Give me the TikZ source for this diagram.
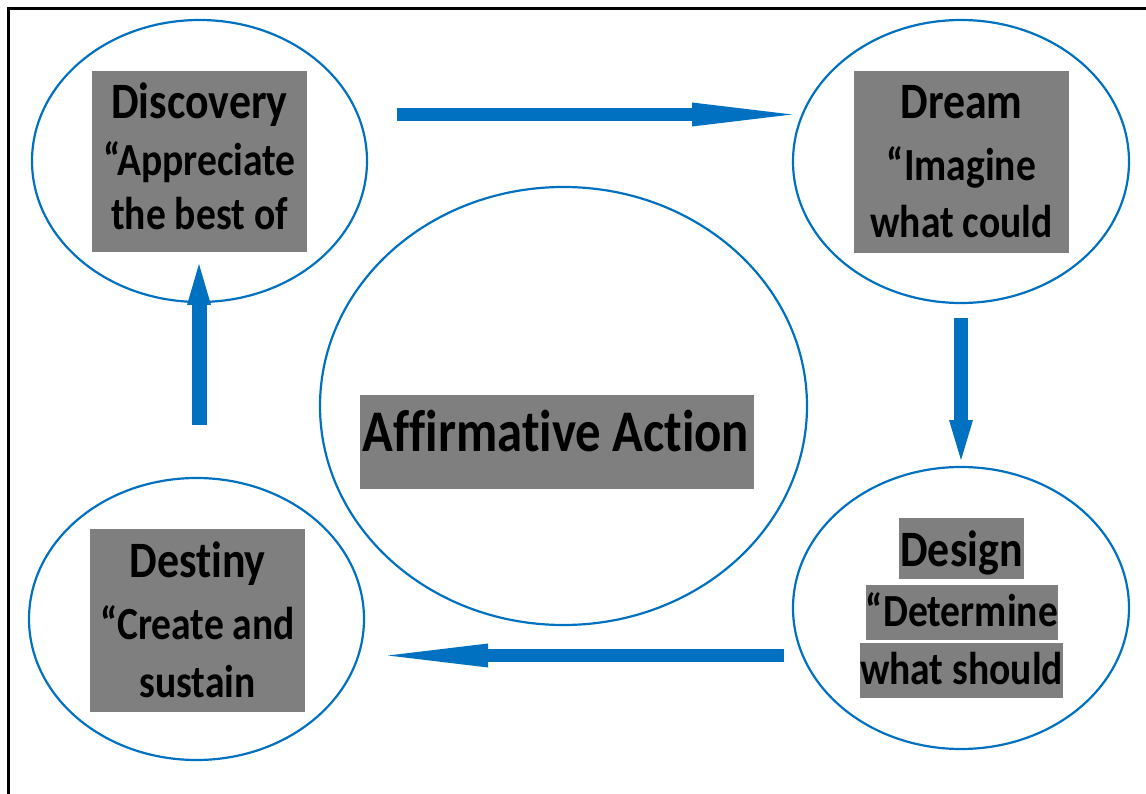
\documentclass[tikz,border=0pt]{standalone}
\usepackage{fontspec}
\setmainfont{Carlito}[FakeStretch=0.86, Ligatures=NoCommon]
\usetikzlibrary{shapes.geometric,arrows.meta}
\definecolor{flowblue}{RGB}{0,112,192}
\definecolor{boxgray}{RGB}{127,127,127}
\tikzset{
  stage/.style={ellipse, draw=flowblue, line width=2.2pt, inner sep=0pt},
  graybox/.style={rectangle, fill=boxgray, inner sep=0pt},
  word/.style={anchor=base, inner sep=0pt, font=\bfseries\fontsize{46}{55}\selectfont},
  headword/.style={anchor=base, inner sep=0pt, font=\bfseries\fontsize{51}{60}\selectfont},
  bigword/.style={anchor=base, inner sep=0pt, font=\bfseries\fontsize{59}{70}\selectfont},
  flowarrow/.style={draw=flowblue, line width=13pt,
    -{Triangle[length=#1, width=24pt, line width=0pt]}},
  flowarrow/.default=100pt
}
\begin{document}
\begin{tikzpicture}[x=1pt,y=-1pt]
\useasboundingbox (0,0) rectangle (1146,794);
% outer frame (open at right and bottom)
\draw[line width=2.5pt] (8.5,794) -- (8.5,8.5) -- (1146,8.5);

% the four stage ellipses and the central one
\node[stage, minimum width=335pt, minimum height=282pt] (disc) at (199.5,161) {};
\node[stage, minimum width=336pt, minimum height=283pt] (dream) at (961,161.5) {};
\node[stage, minimum width=336pt, minimum height=282pt] (design) at (961,608) {};
\node[stage, minimum width=335pt, minimum height=282pt] (destiny) at (196.5,619) {};
\node[stage, minimum width=487pt, minimum height=438pt] (core) at (563.5,406) {};

% Discovery
\node[graybox, minimum width=215pt, minimum height=181pt] (discbox) at (199.5,161.5) {};
\node[headword] (discA) at (199.5,119) {Discovery};
\node[word] (discB) at (199.5,176) {“Appreciate};
\node[word] (discC) at (199.5,230) {the best of};

% Dream
\node[graybox, minimum width=215pt, minimum height=182pt] (dreambox) at (961.5,162) {};
\node[headword] (dreamA) at (961.5,119) {Dream};
\node[word] (dreamB) at (961.5,181) {“Imagine};
\node[word] (dreamC) at (961.5,238) {what could};

% Design: one highlight per line
\node[graybox, minimum width=125pt, minimum height=61pt] (desboxA) at (961.5,548.5) {};
\node[graybox, minimum width=192pt, minimum height=55pt] (desboxB) at (962,612.5) {};
\node[graybox, minimum width=203pt, minimum height=55pt] (desboxC) at (961.5,670.5) {};
\node[headword] (desA) at (961.5,566) {Design};
\node[word] (desB) at (962,626) {“Determine};
\node[word] (desC) at (961.5,684) {what should};

% Destiny
\node[graybox, minimum width=215pt, minimum height=183pt] (destbox) at (197.5,620.5) {};
\node[headword] (destA) at (197.5,577) {Destiny};
\node[word] (destB) at (197.5,639) {“Create and};
\node[word] (destC) at (197.5,697) {sustain};

% centre
\node[graybox, minimum width=394pt, minimum height=94pt] (corebox) at (557,442) {};
\node[bigword] (coreA) at (556,451) {Affirmative Action};

% arrow ends
\coordinate (t1) at (397,114.5);
\coordinate (t2) at (792,114.5);
\coordinate (r1) at (961,318);
\coordinate (r2) at (961,460);
\coordinate (b1) at (784,655.5);
\coordinate (b2) at (388,655.5);
\coordinate (l1) at (199,425);
\coordinate (l2) at (199,264);

\draw[flowarrow] (t1) -- (t2);
\draw[flowarrow=40pt, line width=14pt] (r1) -- (r2);
\draw[flowarrow] (b1) -- (b2);
\draw[flowarrow=41pt, line width=15pt] (l1) -- (l2);
\end{tikzpicture}
\end{document}
